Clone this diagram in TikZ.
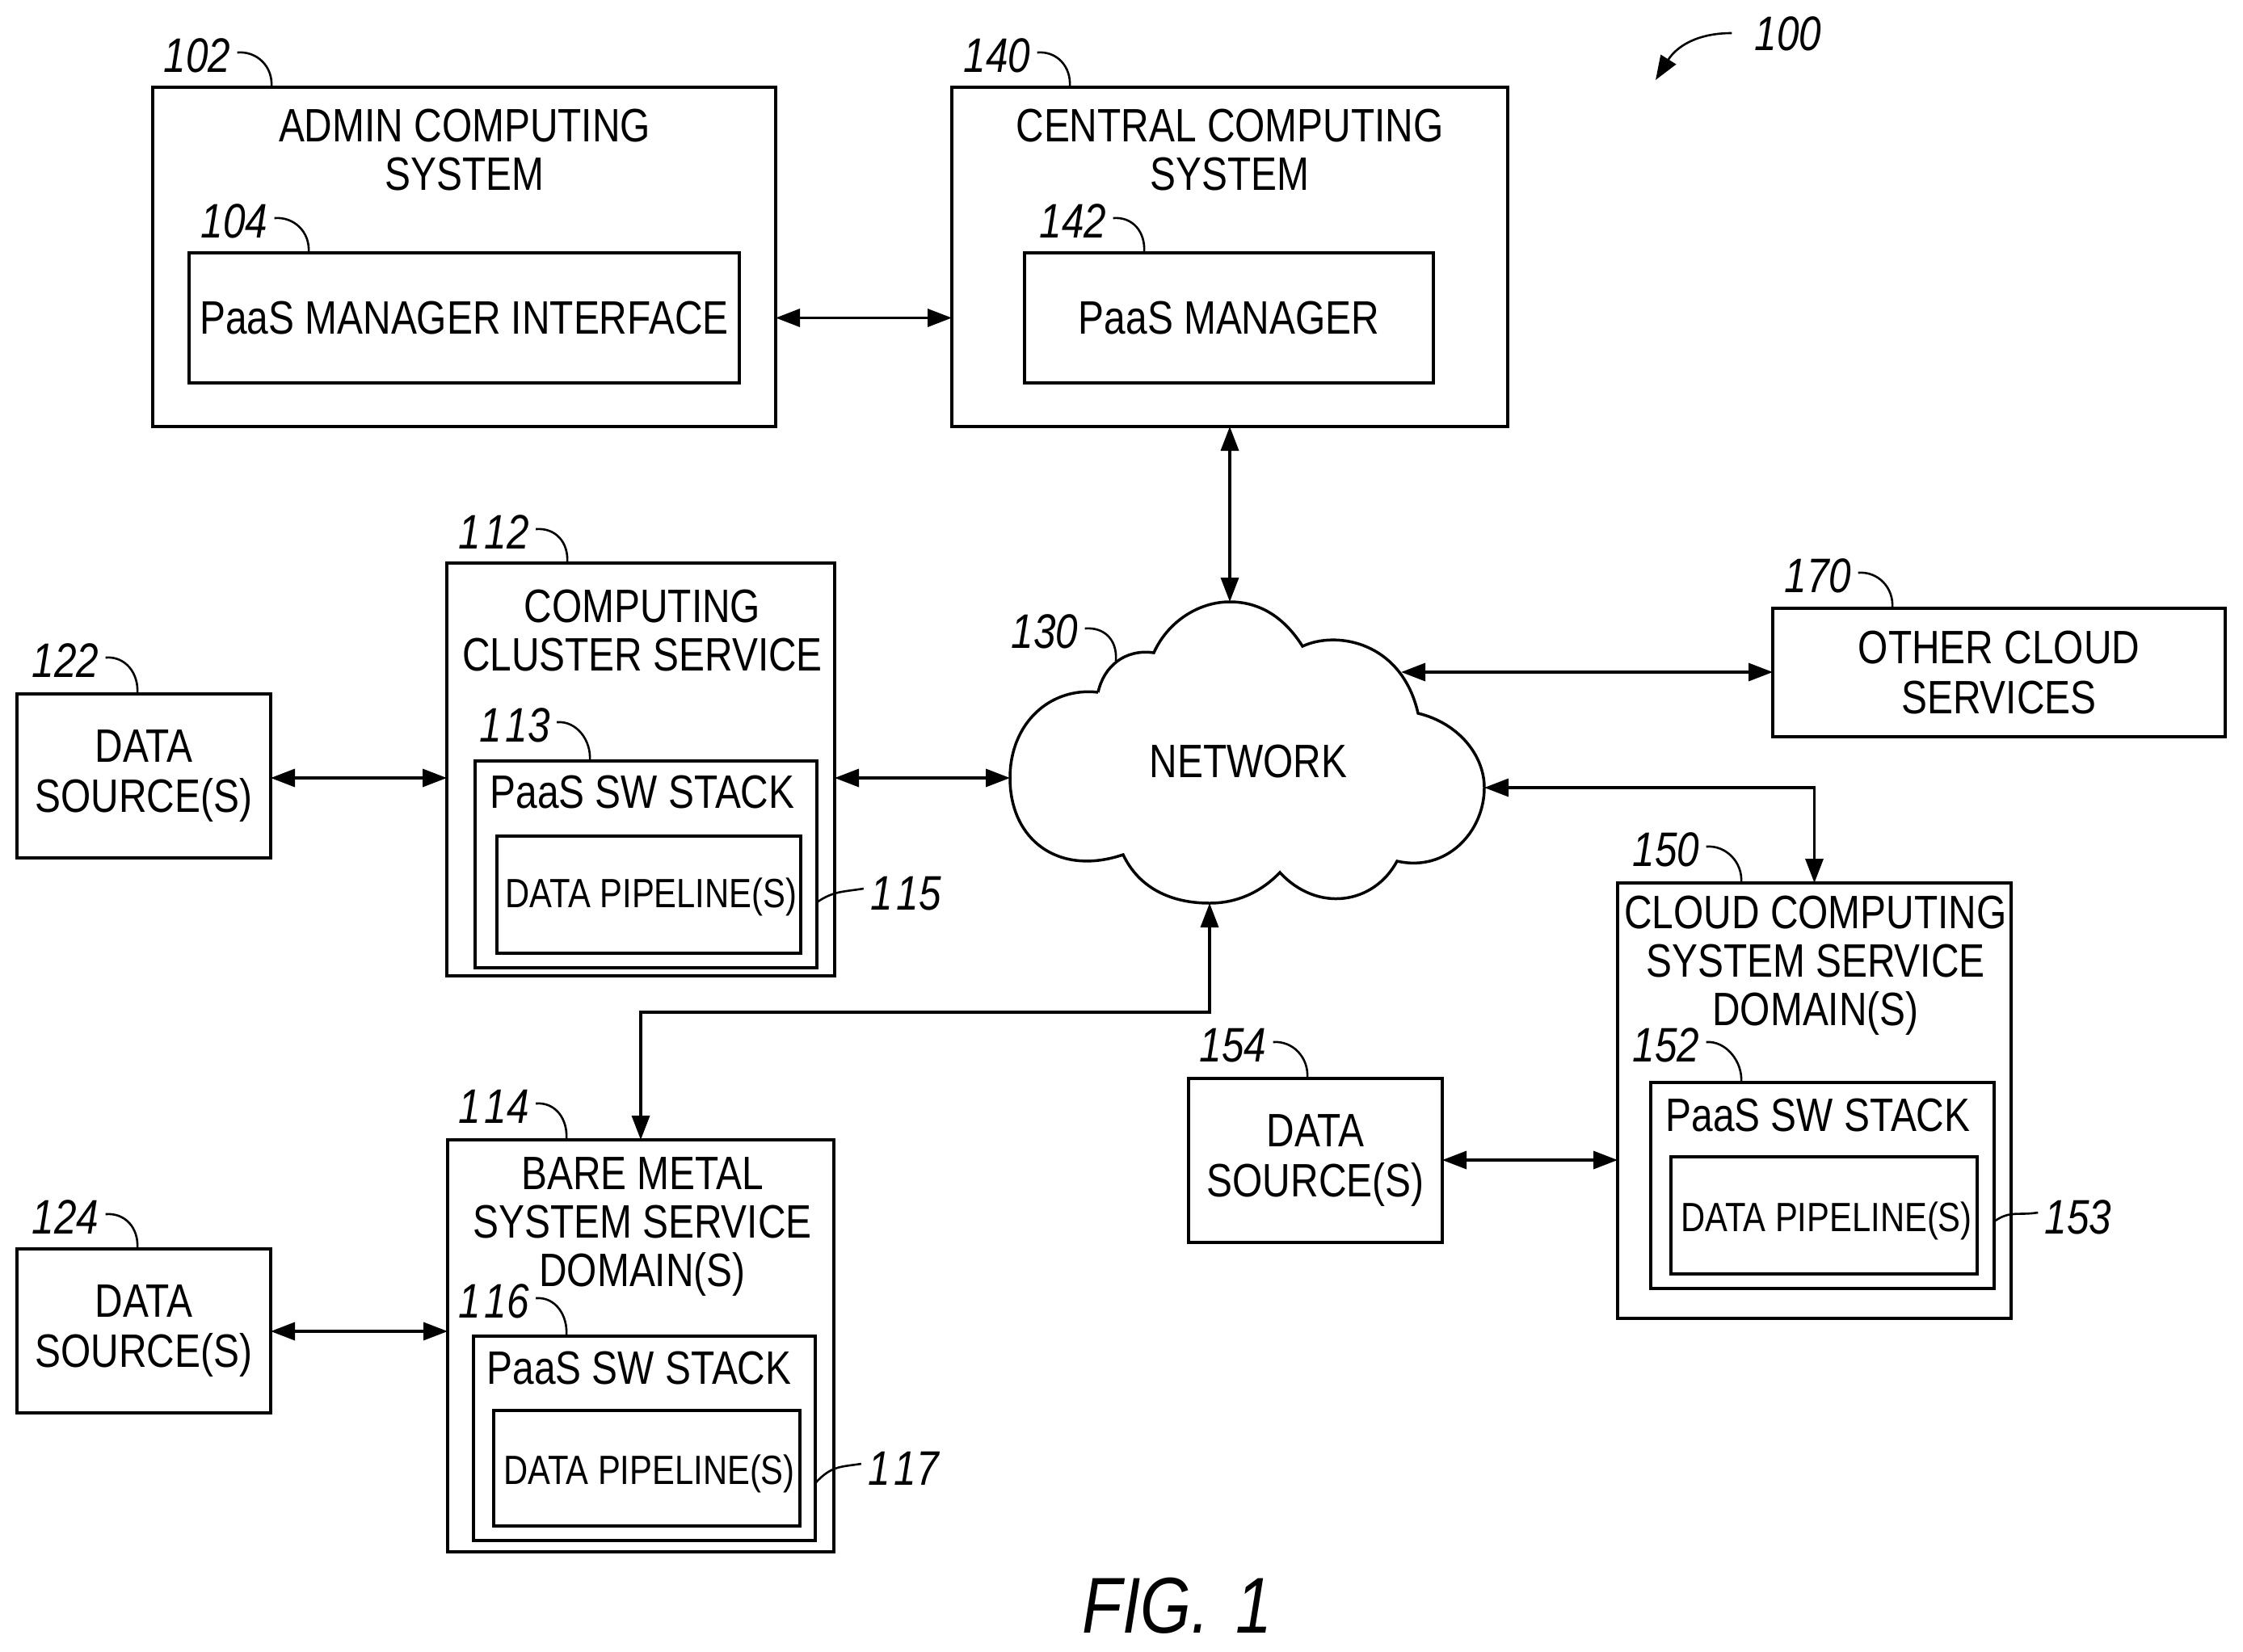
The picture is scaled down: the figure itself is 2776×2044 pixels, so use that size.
\documentclass[tikz,border=0pt]{standalone}
\usepackage{fontspec}
\setmainfont[FakeStretch=0.825]{Liberation Sans}
\usetikzlibrary{arrows.meta,calc}
\newcommand\bxn[7][]{\node[bx,#1,minimum width={(#4-#2)*0.5pt},minimum height={(#5-#3)*0.5pt}] (#6) at ({(#2+#4)/2},{(#3+#5)/2}) {#7};}
\newcommand\ttl[4]{\node[ttlst] (#1) at (#2,#3) {#4};}
\newcommand\num[4]{\node[numst] (#1) at (#2,#3) {#4};}
\newcommand\ldr[3]{\draw[ldrst] ([shift={(8,-4)}]#1.east) .. controls +(24,-2) and +(2,-26) .. ($(#2.north west)+(#3,0)$);}
\newcommand\pipetxt[1]{\hspace*{3pt}\raisebox{-#1}[\height][\depth]{DATA PIPELINE(S)}}
\begin{document}
\begin{tikzpicture}[x=0.5pt,y=-0.5pt,
  bx/.style={draw=black,line width=1.75pt,inner sep=0pt,outer sep=0pt,align=center,font=\fontsize{29}{30}\selectfont},
  pipe/.style={font=\fontsize{25.3}{30}\selectfont},
  ttlst/.style={inner sep=0pt,align=center,font=\fontsize{29}{30}\selectfont},
  numst/.style={inner sep=0pt,font=\fontsize{30}{30}\selectfont\itshape},
  conn/.style={line width=1.75pt,{Triangle[length=15pt,width=11pt]}-{Triangle[length=15pt,width=11pt]}},
  ldrst/.style={line width=1.3pt},
  netst/.style={line width=1.75pt,line join=miter}]
\useasboundingbox (0,0) rectangle (2776,2044);
% boxes
\bxn{189}{108}{960}{528}{admin}{}
\bxn{234}{313}{915}{474}{pmi}{PaaS MANAGER INTERFACE}
\bxn{1178}{108}{1866}{528}{central}{}
\bxn{1268}{313}{1774}{474}{pm}{PaaS MANAGER}
\bxn{553}{697}{1033}{1208}{cluster}{}
\bxn{588}{942}{1011}{1198}{stackA}{}
\bxn[pipe]{615}{1035}{991}{1180}{pipeA}{\pipetxt{1.5pt}}
\bxn{21}{859}{335}{1062}{dsA}{DATA\\[1pt]SOURCE(S)}
\bxn{21}{1546}{335}{1749}{dsB}{DATA\\[1pt]SOURCE(S)}
\bxn{554}{1411}{1032}{1921}{bare}{}
\bxn{586}{1654}{1009}{1907}{stackB}{}
\bxn[pipe]{611}{1746}{990}{1889}{pipeB}{\pipetxt{3.5pt}}
\bxn{2194}{753}{2754}{912}{other}{OTHER CLOUD\\[1pt]SERVICES}
\bxn{2002}{1093}{2489}{1632}{cloudc}{}
\bxn{2043}{1340}{2468}{1595}{stackC}{}
\bxn[pipe]{2068}{1432}{2447}{1577}{pipeC}{\pipetxt{3.5pt}}
\bxn{1471}{1335}{1785}{1538}{dsC}{DATA\\[1pt]SOURCE(S)}
% titles
\ttl{tAdmin}{575}{186}{ADMIN COMPUTING\\SYSTEM}
\ttl{tCentral}{1522}{186}{CENTRAL COMPUTING\\SYSTEM}
\ttl{tCluster}{795}{781}{COMPUTING\\CLUSTER SERVICE}
\ttl{tStackA}{795}{981}{PaaS SW STACK}
\ttl{tBare}{795}{1519}{BARE METAL\\SYSTEM SERVICE\\DOMAIN(S)}
\ttl{tStackB}{791}{1694}{PaaS SW STACK}
\ttl{tCloudc}{2247}{1195}{CLOUD COMPUTING\\SYSTEM SERVICE\\DOMAIN(S)}
\ttl{tStackC}{2250}{1381}{PaaS SW STACK}
\ttl{net}{1545}{943}{NETWORK}
% cloud
\coordinate (nTop) at (1522,745);
\coordinate (nLeft) at (1250,963);
\coordinate (nRight) at (1837,975);
\coordinate (nUR) at (1734,832);
\coordinate (nBot) at (1497,1118);
\draw[netst] (1359,857) .. controls (1366,825) and (1392,803) .. (1428,808)
  .. controls (1445,770) and (1483,745) .. (nTop)
  .. controls (1560,745) and (1590,765) .. (1612,800)
  .. controls (1655,780) and (1735,795) .. (1755,883)
  .. controls (1805,895) and (1837,935) .. (nRight)
  .. controls (1837,1030) and (1790,1080) .. (1729,1066)
  .. controls (1700,1120) and (1630,1130) .. (1584,1080)
  .. controls (1560,1105) and (1530,1118) .. (nBot)
  .. controls (1450,1118) and (1410,1100) .. (1390,1058)
  .. controls (1310,1085) and (1250,1040) .. (nLeft)
  .. controls (1250,895) and (1300,850) .. (1359,857);
% connectors
\draw[conn] (admin.east |- pmi.east) -- (central.west |- pmi.east);
\draw[conn] (central.south -| nTop) -- (nTop);
\draw[conn] (dsA.east |- nLeft) -- (cluster.west |- nLeft);
\draw[conn] (cluster.east |- nLeft) -- (nLeft);
\draw[conn] (other.west |- nUR) -- (nUR);
\draw[conn] (nRight) -| (cloudc.north);
\draw[conn] (nBot) |- (bare.north |- 0,1253) -- (bare.north);
\draw[conn] (dsB.east |- 0,1648) -- (bare.west |- 0,1648);
\draw[conn] (dsC.east |- 0,1436) -- (cloudc.west |- 0,1436);
% reference numerals
\num{l102}{244}{69}{102}\ldr{l102}{admin}{147}
\num{l140}{1234}{69}{140}\ldr{l140}{central}{146}
\num{l104}{290}{274}{104}\ldr{l104}{pmi}{148}
\num{l142}{1328}{274}{142}\ldr{l142}{pm}{148}
\num{l112}{611}{659}{1\kern2.5pt 12}\ldr{l112}{cluster}{149}
\num{l113}{637}{898}{1\kern2.5pt 13}\ldr{l113}{stackA}{142}
\num{l122}{81}{818}{122}\ldr{l122}{dsA}{149}
\num{l124}{81}{1507}{124}\ldr{l124}{dsB}{149}
\num{l114}{611}{1370}{1\kern2.5pt 14}\ldr{l114}{bare}{147}
\num{l116}{611}{1611}{1\kern2.5pt 16}\ldr{l116}{stackB}{115}
\num{l150}{2062}{1052}{150}\ldr{l150}{cloudc}{153}
\num{l152}{2062}{1294}{152}\ldr{l152}{stackC}{112}
\num{l154}{1526}{1294}{154}\ldr{l154}{dsC}{147}
\num{l170}{2250}{713}{170}\ldr{l170}{other}{148}
\num{l130}{1293}{782}{130}
\draw[ldrst] ([shift={(8,-4)}]l130.east) .. controls +(24,-2) and +(2,-26) .. (1381,818);
\num{l115}{1121}{1106}{1\kern2.5pt 15}
\draw[ldrst] (stackA.east |- 0,1117) .. controls +(20,-14) and +(-25,4) .. ([shift={(-8,-6)}]l115.west);
\num{l117}{1118}{1818}{1\kern2.5pt 17}
\draw[ldrst] (stackB.east |- 0,1836) .. controls +(20,-22) and +(-25,4) .. ([shift={(-8,-6)}]l117.west);
\num{l153}{2572}{1507}{153}
\draw[ldrst] (stackC.east |- 0,1512) .. controls +(20,-14) and +(-25,4) .. ([shift={(-8,-6)}]l153.west);
\num{l100}{2213}{42}{100}
\coordinate (a100) at (2049,99);
\draw[ldrst,-{Triangle[length=15pt,width=11pt]}] ([shift={(-28,-1)}]l100.west) .. controls +(-45,0) and +(25,-40) .. (a100);
\node[inner sep=0pt,font=\fontsize{49}{50}\selectfont\itshape] (fig) at (1457,1988) {FIG.\hspace{16pt}1};
\end{tikzpicture}
\end{document}
